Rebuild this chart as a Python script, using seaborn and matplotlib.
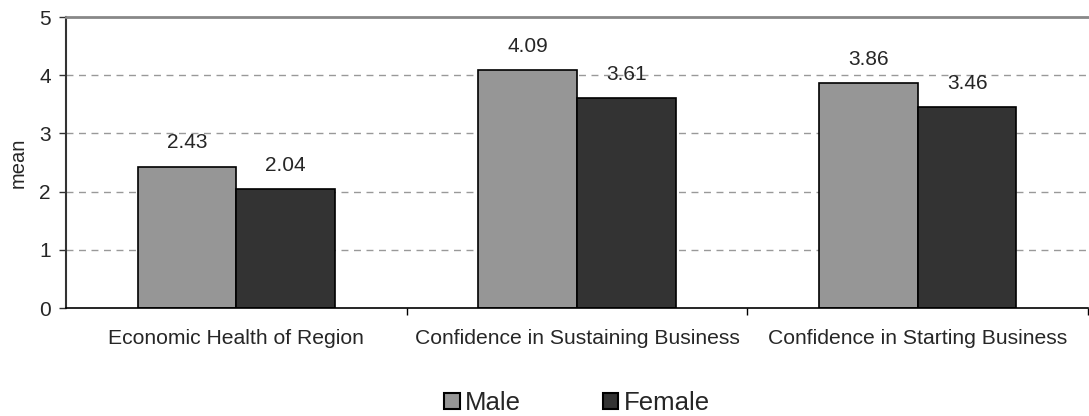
import seaborn as sns
import matplotlib.pyplot as plt
import pandas as pd
from matplotlib.patches import Patch

categories = ["Economic Health of Region", "Confidence in Sustaining Business",
              "Confidence in Starting Business"]
genders = ["Male", "Female"]
male_means = [2.43, 4.09, 3.86]
female_means = [2.04, 3.61, 3.46]
colors = {"Male": "#969696", "Female": "#333333"}

df = pd.DataFrame({
    "category": categories * 2,
    "gender": ["Male"] * 3 + ["Female"] * 3,
    "mean": male_means + female_means,
})

sns.set_style("white")
plt.rcParams["font.family"] = ["Liberation Sans", "DejaVu Sans"]

fig = plt.figure(figsize=(10.89, 4.16), dpi=100)
ax = fig.add_axes([66 / 1089, 1 - 308 / 416, (1088 - 66) / 1089, (308 - 17) / 416])

sns.barplot(data=df, x="category", y="mean", hue="gender", hue_order=genders,
            palette=colors, width=0.58, edgecolor="black", linewidth=1.2,
            saturation=1, legend=False, ax=ax)

# value labels
for cont in ax.containers:
    for bar in cont:
        h = bar.get_height()
        ax.annotate(f"{h:.2f}", (bar.get_x() + bar.get_width() / 2, h),
                    xytext=(0, 17), textcoords="offset points",
                    ha="center", va="center", fontsize=15)

ax.set_ylim(0, 5)
ax.set_xlim(-0.5, 2.5)
ax.set_yticks([0, 1, 2, 3, 4, 5])
ax.set_xlabel("")
ax.set_ylabel("mean", fontsize=14.5)
ax.yaxis.set_label_coords(-0.037, 0.5)

for y in [1, 2, 3, 4]:
    ax.axhline(y, color="#999999", lw=1, ls=(0, (5, 4)), zorder=0)

ax.spines["right"].set_visible(False)
ax.spines["top"].set_color("#888888")
ax.spines["top"].set_linewidth(2)
ax.spines["left"].set_color("#333333")
ax.spines["left"].set_linewidth(1.5)
ax.spines["bottom"].set_color("black")
ax.spines["bottom"].set_linewidth(1.2)

ax.tick_params(axis="y", direction="out", length=5, width=1, left=True,
               labelsize=15, pad=6, color="#333333")
ax.tick_params(axis="x", which="major", length=0, labelsize=15.2, pad=15)
ax.set_xticks([0.5, 1.5, 2.5], minor=True)
ax.tick_params(axis="x", which="minor", direction="out", length=5, width=1,
               bottom=True, color="black")

handles = [Patch(facecolor=colors[g], edgecolor="black", linewidth=1.5) for g in genders]
fig.legend(handles, genders, loc="center", bbox_to_anchor=(577 / 1089, 1 - 403 / 416),
           ncol=2, frameon=False, fontsize=18.5, handlelength=0.6, handleheight=0.6,
           handletextpad=0.2, columnspacing=3.2)

fig.savefig("out.png", dpi=100)
